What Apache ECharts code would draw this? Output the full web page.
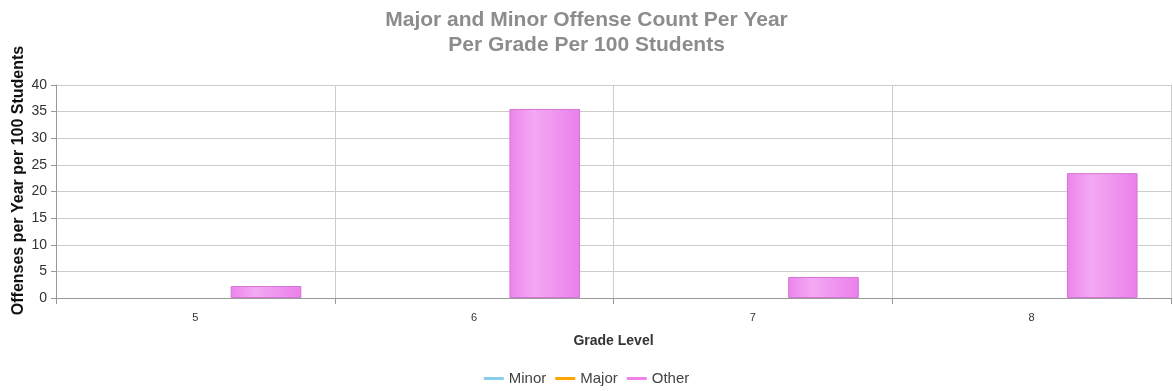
<!DOCTYPE html>
<html>
<head>
<meta charset="utf-8">
<script src="https://cdn.jsdelivr.net/npm/echarts@6/dist/echarts.min.js"></script>
<style>
html,body{margin:0;padding:0;background:#fff;}
#chart{width:1173px;height:391px;}
</style>
</head>
<body>
<div id="chart"></div>
<script>
var grades = ['5', '6', '7', '8'];
var minorVals = [0, 0, 0, 0];
var majorVals = [0, 0, 0, 0];
var otherVals = [2.25, 35.5, 3.95, 23.45];

var chart = echarts.init(document.getElementById('chart'));

function barGrad(c1, c2, c3){
    return new echarts.graphic.LinearGradient(0, 0, 1, 0, [
        {offset: 0, color: c1},
        {offset: 0.35, color: c2},
        {offset: 1, color: c3}
    ]);
}

var font = 'Arial, Liberation Sans, sans-serif';

var option = {
    animation: false,
    title: {
        text: 'Major and Minor Offense Count Per Year\nPer Grade Per 100 Students',
        left: 'center',
        top: 3,
        textStyle: {
            fontFamily: font,
            fontSize: 21,
            fontWeight: 'bold',
            color: '#8c8c8c',
            lineHeight: 25
        }
    },
    legend: {
        bottom: 0,
        itemWidth: 20,
        itemHeight: 3,
        itemGap: 9,
        textStyle: {fontFamily: font, fontSize: 15, color: '#444'},
        data: [
            {name: 'Minor', icon: 'rect', itemStyle: {color: '#87ceeb', borderWidth: 0}},
            {name: 'Major', icon: 'rect', itemStyle: {color: '#ffa500', borderWidth: 0}},
            {name: 'Other', icon: 'rect', itemStyle: {color: '#ee82ee', borderWidth: 0}}
        ]
    },
    grid: {left: 56, right: 2, top: 85, bottom: 93, outerBoundsMode: 'none'},
    xAxis: {
        type: 'category',
        data: grades,
        name: 'Grade Level',
        nameLocation: 'middle',
        nameGap: 36,
        nameMoveOverlap: false,
        nameTextStyle: {fontFamily: font, fontSize: 14, fontWeight: 'bold', color: '#333'},
        axisLine: {lineStyle: {color: '#999'}},
        axisTick: {show: true, length: 6, lineStyle: {color: '#999'}},
        axisLabel: {fontFamily: font, fontSize: 11, color: '#333', margin: 14},
        splitLine: {show: true, lineStyle: {color: '#ccc'}}
    },
    yAxis: {
        type: 'value',
        min: 0,
        max: 40,
        interval: 5,
        name: 'Offenses per Year per 100 Students',
        nameLocation: 'middle',
        nameGap: 29,
        nameMoveOverlap: false,
        nameTextStyle: {fontFamily: font, fontSize: 16, fontWeight: 'bold', color: '#111', padding: [0, 0, 0, 22]},
        axisLine: {show: true, lineStyle: {color: '#999'}},
        axisTick: {show: true, length: 5, lineStyle: {color: '#999'}},
        axisLabel: {fontFamily: font, fontSize: 14, color: '#333', margin: 9},
        splitLine: {lineStyle: {color: '#ccc'}}
    },
    series: [
        {
            name: 'Minor', type: 'bar', data: minorVals,
            barGap: '0%', barCategoryGap: '24%',
            itemStyle: {color: barGrad('#87ceeb', '#b5e2f5', '#87ceeb'), borderWidth: 0}
        },
        {
            name: 'Major', type: 'bar', data: majorVals,
            barGap: '0%', barCategoryGap: '24%',
            itemStyle: {color: barGrad('#ffa500', '#ffc04d', '#ffa500'), borderWidth: 0}
        },
        {
            name: 'Other', type: 'bar', data: otherVals,
            barGap: '0%', barCategoryGap: '24%',
            itemStyle: {color: barGrad('#ec84ec', '#f3a9f3', '#eb7feb'), borderColor: '#d575d5', borderWidth: 1}
        }
    ]
};

chart.setOption(option);
</script>
</body>
</html>
